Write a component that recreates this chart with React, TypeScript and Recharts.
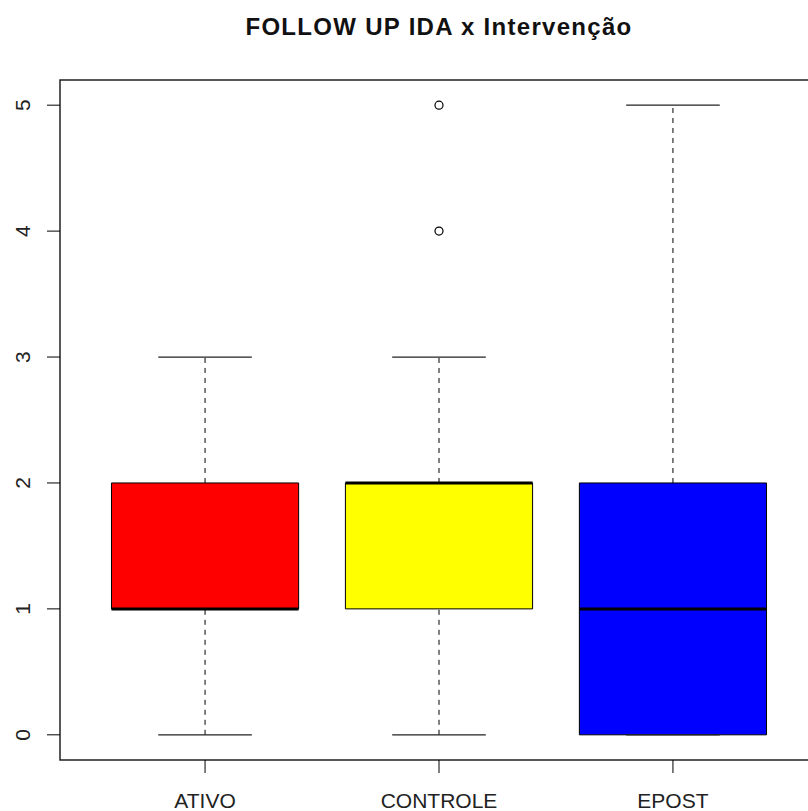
import React from 'react'
import { ComposedChart, XAxis, YAxis, Scatter, ReferenceArea, ReferenceLine } from 'recharts'

// boxplot stats per group
const groups = ['ATIVO', 'CONTROLE', 'EPOST']
const mins = [0, 0, 0]
const q1s = [1, 1, 0]
const medians = [1, 2, 1]
const q3s = [2, 2, 2]
const maxs = [3, 3, 5]
const outliers = [[], [4, 5], []]
const boxColors = ['#ff0000', '#ffff00', '#0000ff']
const yTicks = [0, 1, 2, 3, 4, 5]

const FONT = '"Liberation Sans", Arial, sans-serif'
const HALF_BOX = 0.4
const HALF_CAP = 0.2

const outlierPoints = outliers.flatMap((vals, i) => vals.map((v) => ({ x: i + 1, y: v })))

const YTick = (props: any) => {
  const { y, payload } = props
  return (
    <text
      x={30}
      y={y}
      transform={`rotate(-90 30 ${y})`}
      textAnchor="middle"
      fontSize={21}
      fontFamily={FONT}
      fill="#222"
    >
      {payload.value}
    </text>
  )
}

const XTick = (props: any) => {
  const { x, payload } = props
  return (
    <text x={x} y={808} textAnchor="middle" fontSize={21} fontFamily={FONT} fill="#222">
      {groups[payload.value - 1]}
    </text>
  )
}

const OpenCircle = (props: any) => {
  const { cx, cy } = props
  return <circle cx={cx} cy={cy} r={4} fill="none" stroke="#000" strokeWidth={1.2} />
}

export default function App() {
  return (
    <div
      style={{
        position: 'absolute',
        left: 0,
        top: 0,
        width: 808,
        height: 811,
        overflow: 'hidden',
        background: '#fff',
      }}
    >
      <div
        style={{
          position: 'absolute',
          left: 60,
          width: 758,
          top: 13,
          lineHeight: '28px',
          textAlign: 'center',
          fontFamily: FONT,
          fontWeight: 'bold',
          fontSize: 24,
          letterSpacing: 1.3,
          color: '#111',
        }}
      >
        FOLLOW UP IDA x Intervenção
      </div>
      <ComposedChart width={830} height={811} margin={{ top: 80, right: 12, bottom: 0, left: 0 }}>
        <XAxis
          type="number"
          dataKey="x"
          domain={[0.38, 3.62]}
          allowDataOverflow
          ticks={[1, 2, 3]}
          interval={0}
          height={51}
          axisLine={false}
          tickLine={{ stroke: '#000' }}
          tickSize={13}
          tick={<XTick />}
        />
        <YAxis
          type="number"
          dataKey="y"
          domain={[-0.2, 5.2]}
          allowDataOverflow
          ticks={yTicks}
          interval={0}
          width={60}
          axisLine={false}
          tickLine={{ stroke: '#000' }}
          tickSize={13}
          tick={<YTick />}
        />

        {/* plot frame */}
        <ReferenceArea x1={0.38} x2={3.62} y1={-0.2} y2={5.2} fill="none" stroke="#222" strokeWidth={1.5} />

        {groups.map((g, i) => (
          <ReferenceArea
            key={`box-${g}`}
            x1={i + 1 - HALF_BOX}
            x2={i + 1 + HALF_BOX}
            y1={q1s[i]}
            y2={q3s[i]}
            fill={boxColors[i]}
            fillOpacity={1}
            stroke="#000"
            strokeWidth={1}
          />
        ))}

        {groups.map((g, i) => (
          <React.Fragment key={`wh-${g}`}>
            <ReferenceLine
              segment={[{ x: i + 1, y: q3s[i] }, { x: i + 1, y: maxs[i] }]}
              stroke="#000"
              strokeDasharray="5 5"
            />
            {q1s[i] > mins[i] && (
              <ReferenceLine
                segment={[{ x: i + 1, y: mins[i] }, { x: i + 1, y: q1s[i] }]}
                stroke="#000"
                strokeDasharray="5 5"
              />
            )}
            <ReferenceLine
              segment={[{ x: i + 1 - HALF_CAP, y: maxs[i] }, { x: i + 1 + HALF_CAP, y: maxs[i] }]}
              stroke="#222"
              strokeWidth={1.3}
            />
            <ReferenceLine
              segment={[{ x: i + 1 - HALF_CAP, y: mins[i] }, { x: i + 1 + HALF_CAP, y: mins[i] }]}
              stroke="#222"
              strokeWidth={1.3}
            />
            <ReferenceLine
              segment={[{ x: i + 1 - HALF_BOX, y: medians[i] }, { x: i + 1 + HALF_BOX, y: medians[i] }]}
              stroke="#000"
              strokeWidth={3}
            />
          </React.Fragment>
        ))}

        <Scatter data={outlierPoints} shape={<OpenCircle />} isAnimationActive={false} />
      </ComposedChart>
    </div>
  )
}
